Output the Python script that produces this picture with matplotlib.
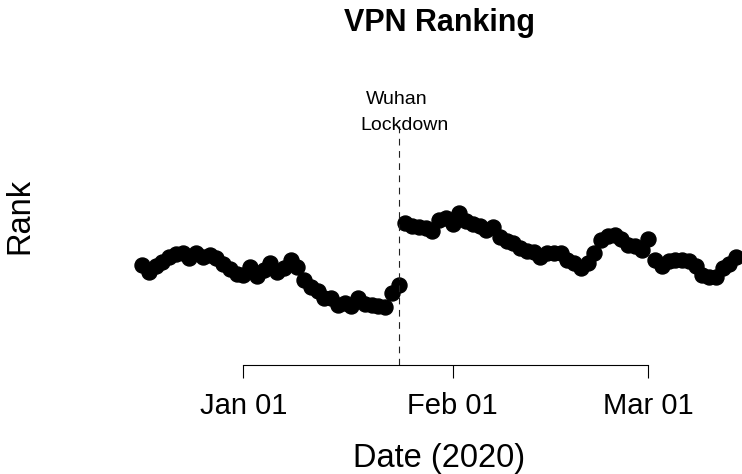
import matplotlib
matplotlib.use("Agg")
import matplotlib.pyplot as plt
import matplotlib.dates as mdates
import pandas as pd

plt.rcParams['font.family'] = ['Liberation Sans', 'DejaVu Sans']

# daily VPN app ranking (no scale shown on the original, smaller = better)
dates = pd.date_range('2019-12-17', '2020-03-14', freq='D')
rank = [205, 212, 206, 202, 197, 194, 193, 198, 193, 197, 195, 198, 204, 209, 214,
        215, 207, 216, 210, 203, 212, 208, 200, 207, 220, 227, 231, 238, 238, 245,
        243, 246, 238, 244, 245, 246, 247, 233, 225,
        163, 166, 167, 168, 171, 160, 158, 164, 153, 161, 164, 166, 170, 167, 177,
        181, 183, 188, 191, 192, 197, 193, 193, 193, 200, 203, 208, 203, 193, 180,
        176, 175, 179, 185, 186, 190, 179, 200, 206, 201, 200, 200, 201, 206, 215,
        217, 217, 208, 204, 197]
tick_dates = pd.to_datetime(['2020-01-01', '2020-02-01', '2020-03-01'])
lockdown = pd.Timestamp('2020-01-24')

fig = plt.figure(figsize=(7.42, 4.74), dpi=100)
ax = fig.add_axes([0.1596, 0.2300, 0.8643, 0.6435])

ax.plot(dates, rank, 'o', color='black', ms=10.8, mec='black', clip_on=False)

x0 = mdates.date2num(pd.Timestamp('2020-01-01'))
ax.set_xlim(x0 - 18.5, x0 + 76.5)
ax.set_ylim(305, 0)

# lockdown marker
ax.vlines(lockdown, 305, 65, colors='#222222', linestyles=(0, (6, 5)), lw=0.8)
ax.annotate('Wuhan', (lockdown, 44), xytext=(-1, 0), textcoords='offset points',
            ha='center', va='baseline', fontsize=14)
ax.annotate('Lockdown', (lockdown, 70), xytext=(4.5, 0), textcoords='offset points',
            ha='center', va='baseline', fontsize=14)

for s in ['left', 'top', 'right']:
    ax.spines[s].set_visible(False)
ax.spines['bottom'].set_bounds(mdates.date2num(tick_dates[0]), mdates.date2num(tick_dates[-1]))
ax.spines['bottom'].set_linewidth(0.8)
ax.set_yticks([])
ax.set_xticks(tick_dates)
ax.xaxis.set_major_formatter(mdates.DateFormatter('%b %d'))
ax.tick_params(axis='x', length=9.5, width=0.8, pad=10, labelsize=21)

ax.set_title('VPN Ranking', fontsize=22, fontweight='bold', pad=21)
ax.set_xlabel('Date (2020)', fontsize=23.5)
ax.xaxis.label.set_va('baseline')
ax.xaxis.set_label_coords(0.5, -0.3344)
ax.set_ylabel('Rank', fontsize=23.5)
ax.yaxis.label.set_va('baseline')
ax.yaxis.set_label_coords(-0.141, 0.488)

fig.savefig('out.png', dpi=100)
